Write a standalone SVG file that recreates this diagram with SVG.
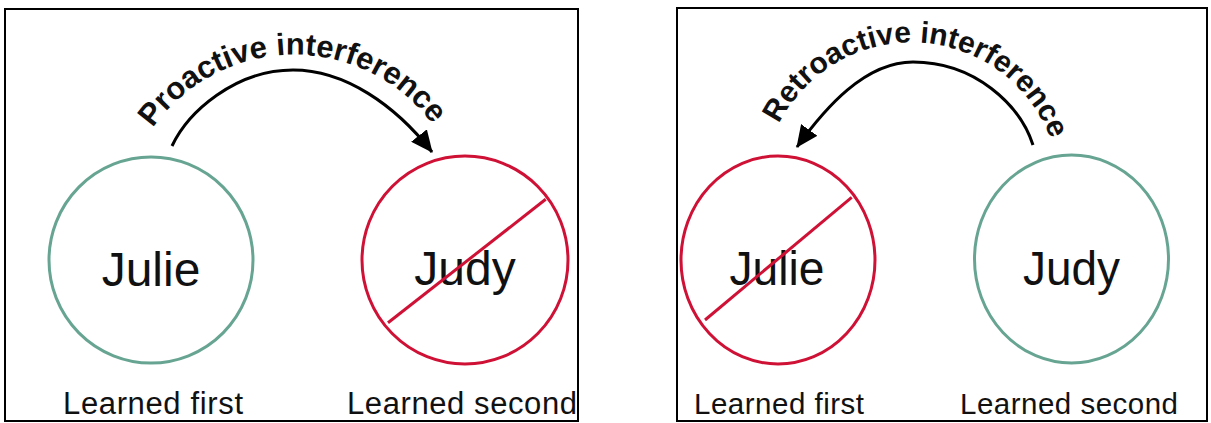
<svg xmlns="http://www.w3.org/2000/svg" width="1211" height="423" viewBox="0 0 1211 423">
  <style>
    .frame { fill: #ffffff; stroke: #000000; stroke-width: 2; }
    .keep { fill: none; stroke: #67a592; stroke-width: 3; }
    .lost { fill: none; stroke: #cf1136; stroke-width: 3; }
    .name { font-family: "Liberation Sans", Arial, Helvetica, sans-serif; font-size: 48px; fill: #111111; text-anchor: middle; }
    .label { font-family: "Liberation Sans", Arial, Helvetica, sans-serif; font-size: 31px; fill: #111111; text-anchor: middle; }
    .arc-label { font-family: "Liberation Sans", Arial, Helvetica, sans-serif; font-size: 30px; font-weight: bold; fill: #111111; }
    .flow { fill: none; stroke: #000000; stroke-width: 3; marker-end: url(#head); }
  </style>
  <defs>
    <marker id="head" markerUnits="userSpaceOnUse" viewBox="0 0 22 20" markerWidth="22" markerHeight="20" refX="21" refY="10" orient="auto">
      <path d="M0,0 L22,10 L0,20 Z" fill="#000000"/>
    </marker>
    <path id="arcL" d="M152.9,128 A172.5,172.5 0 0 1 450.4,154.3"/>
    <path id="arcR" d="M779,123.9 A148.4,148.4 0 0 1 1057.6,165"/>
  </defs>

  <g id="panel-proactive">
    <rect class="frame" x="5" y="9" width="573" height="412"/>
  </g>
  <g id="panel-retroactive">
    <rect class="frame" x="677" y="8" width="530" height="413"/>
  </g>

  <g id="proactive-julie">
    <ellipse class="keep" cx="151" cy="260" rx="102" ry="103"/>
    <text class="name" x="151" y="286">Julie</text>
    <text class="label" x="153" y="414" textLength="180">Learned first</text>
  </g>
  <g id="proactive-judy">
    <ellipse class="lost" cx="465" cy="260" rx="103" ry="104"/>
    <text class="name" x="465" y="285">Judy</text>
    <line class="lost" x1="388" y1="322.7" x2="545.7" y2="199.3"/>
    <text class="label" x="462" y="414" textLength="230">Learned second</text>
  </g>

  <g id="retroactive-julie">
    <ellipse class="lost" cx="778" cy="260" rx="97" ry="104"/>
    <text class="name" x="777" y="285" textLength="95" lengthAdjust="spacingAndGlyphs">Julie</text>
    <line class="lost" x1="705" y1="320" x2="851.7" y2="197.3"/>
    <text class="label" x="779" y="414" textLength="170" style="font-size:29.5px">Learned first</text>
  </g>
  <g id="retroactive-judy">
    <ellipse class="keep" cx="1071.5" cy="259" rx="97" ry="104"/>
    <text class="name" x="1071.5" y="285" textLength="97" lengthAdjust="spacingAndGlyphs">Judy</text>
    <text class="label" x="1069" y="414" textLength="218" style="font-size:29.5px">Learned second</text>
  </g>

  <g id="connectors">
    <path class="flow" d="M172,146 C188,112 235,70 293,70 C345,70 395,105 432,152"/>
    <text class="arc-label" style="font-size:31px"><textPath href="#arcL">Proactive interference</textPath></text>
    <path class="flow" d="M1033,145 C1020,105 975,62 913,62 C865,62 825,108 797,147"/>
    <text class="arc-label"><textPath href="#arcR">Retroactive interference</textPath></text>
  </g>
</svg>
